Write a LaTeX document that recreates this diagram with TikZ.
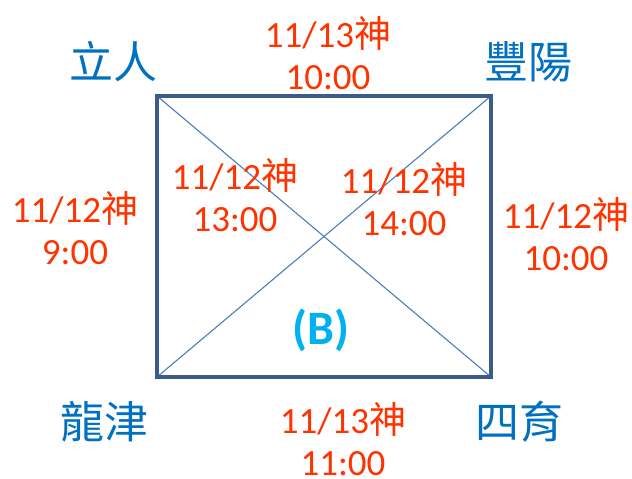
\documentclass[tikz,border=0pt]{standalone}
\usepackage{fontspec}
\setmainfont{Carlito}
\newfontfamily\cjk{Noto Sans CJK TC}
\definecolor{redtxt}{HTML}{FF3300}
\definecolor{bluetxt}{HTML}{0070C0}
\definecolor{cyantxt}{HTML}{00B0F0}
\definecolor{frame}{HTML}{3B5B8C}
\definecolor{diag}{HTML}{4A7EBB}
\tikzset{
  redlbl/.style={text=redtxt, font=\fontsize{37}{42}\selectfont, align=center, inner sep=0pt},
  place/.style={text=bluetxt, font=\fontsize{44}{48}\selectfont\cjk, inner sep=0pt},
  framebox/.style={draw=frame, line width=4.3pt},
  diagline/.style={draw=diag, line width=1.1pt}
}
\newcommand{\shen}{{\cjk 神}}
\begin{document}
\begin{tikzpicture}[x=1pt,y=-1pt]
\useasboundingbox (0,0) rectangle (632,479);
\coordinate (tl) at (157,96);
\coordinate (tr) at (491,96);
\coordinate (br) at (491,377);
\coordinate (bl) at (157,377);
\draw[diagline] (tl) -- (br);
\draw[diagline] (tr) -- (bl);
\draw[framebox] (tl) -- (tr) -- (br) -- (bl) -- cycle;
\node[place] (lr) at (113,62) {立人};
\node[place] (fy) at (528,62) {豐陽};
\node[place] (lj) at (104,422) {龍津};
\node[place] (sy) at (519,422) {四育};
\node[redlbl] (t1) at (328,53) {11/13\shen\\10:00};
\node[redlbl] (t2) at (75,228) {11/12\shen\\9:00};
\node[redlbl] (t3) at (235,195) {11/12\shen\\13:00};
\node[redlbl] (t4) at (404,199) {11/12\shen\\14:00};
\node[redlbl] (t5) at (566,234) {11/12\shen\\10:00};
\node[redlbl, anchor=south] (t6) at (343,476) {11/13\shen\\11:00};
\node[text=cyantxt, font=\fontsize{48}{52}\selectfont\bfseries, inner sep=0pt] (b) at (321,330) {(B)};
\end{tikzpicture}
\end{document}
